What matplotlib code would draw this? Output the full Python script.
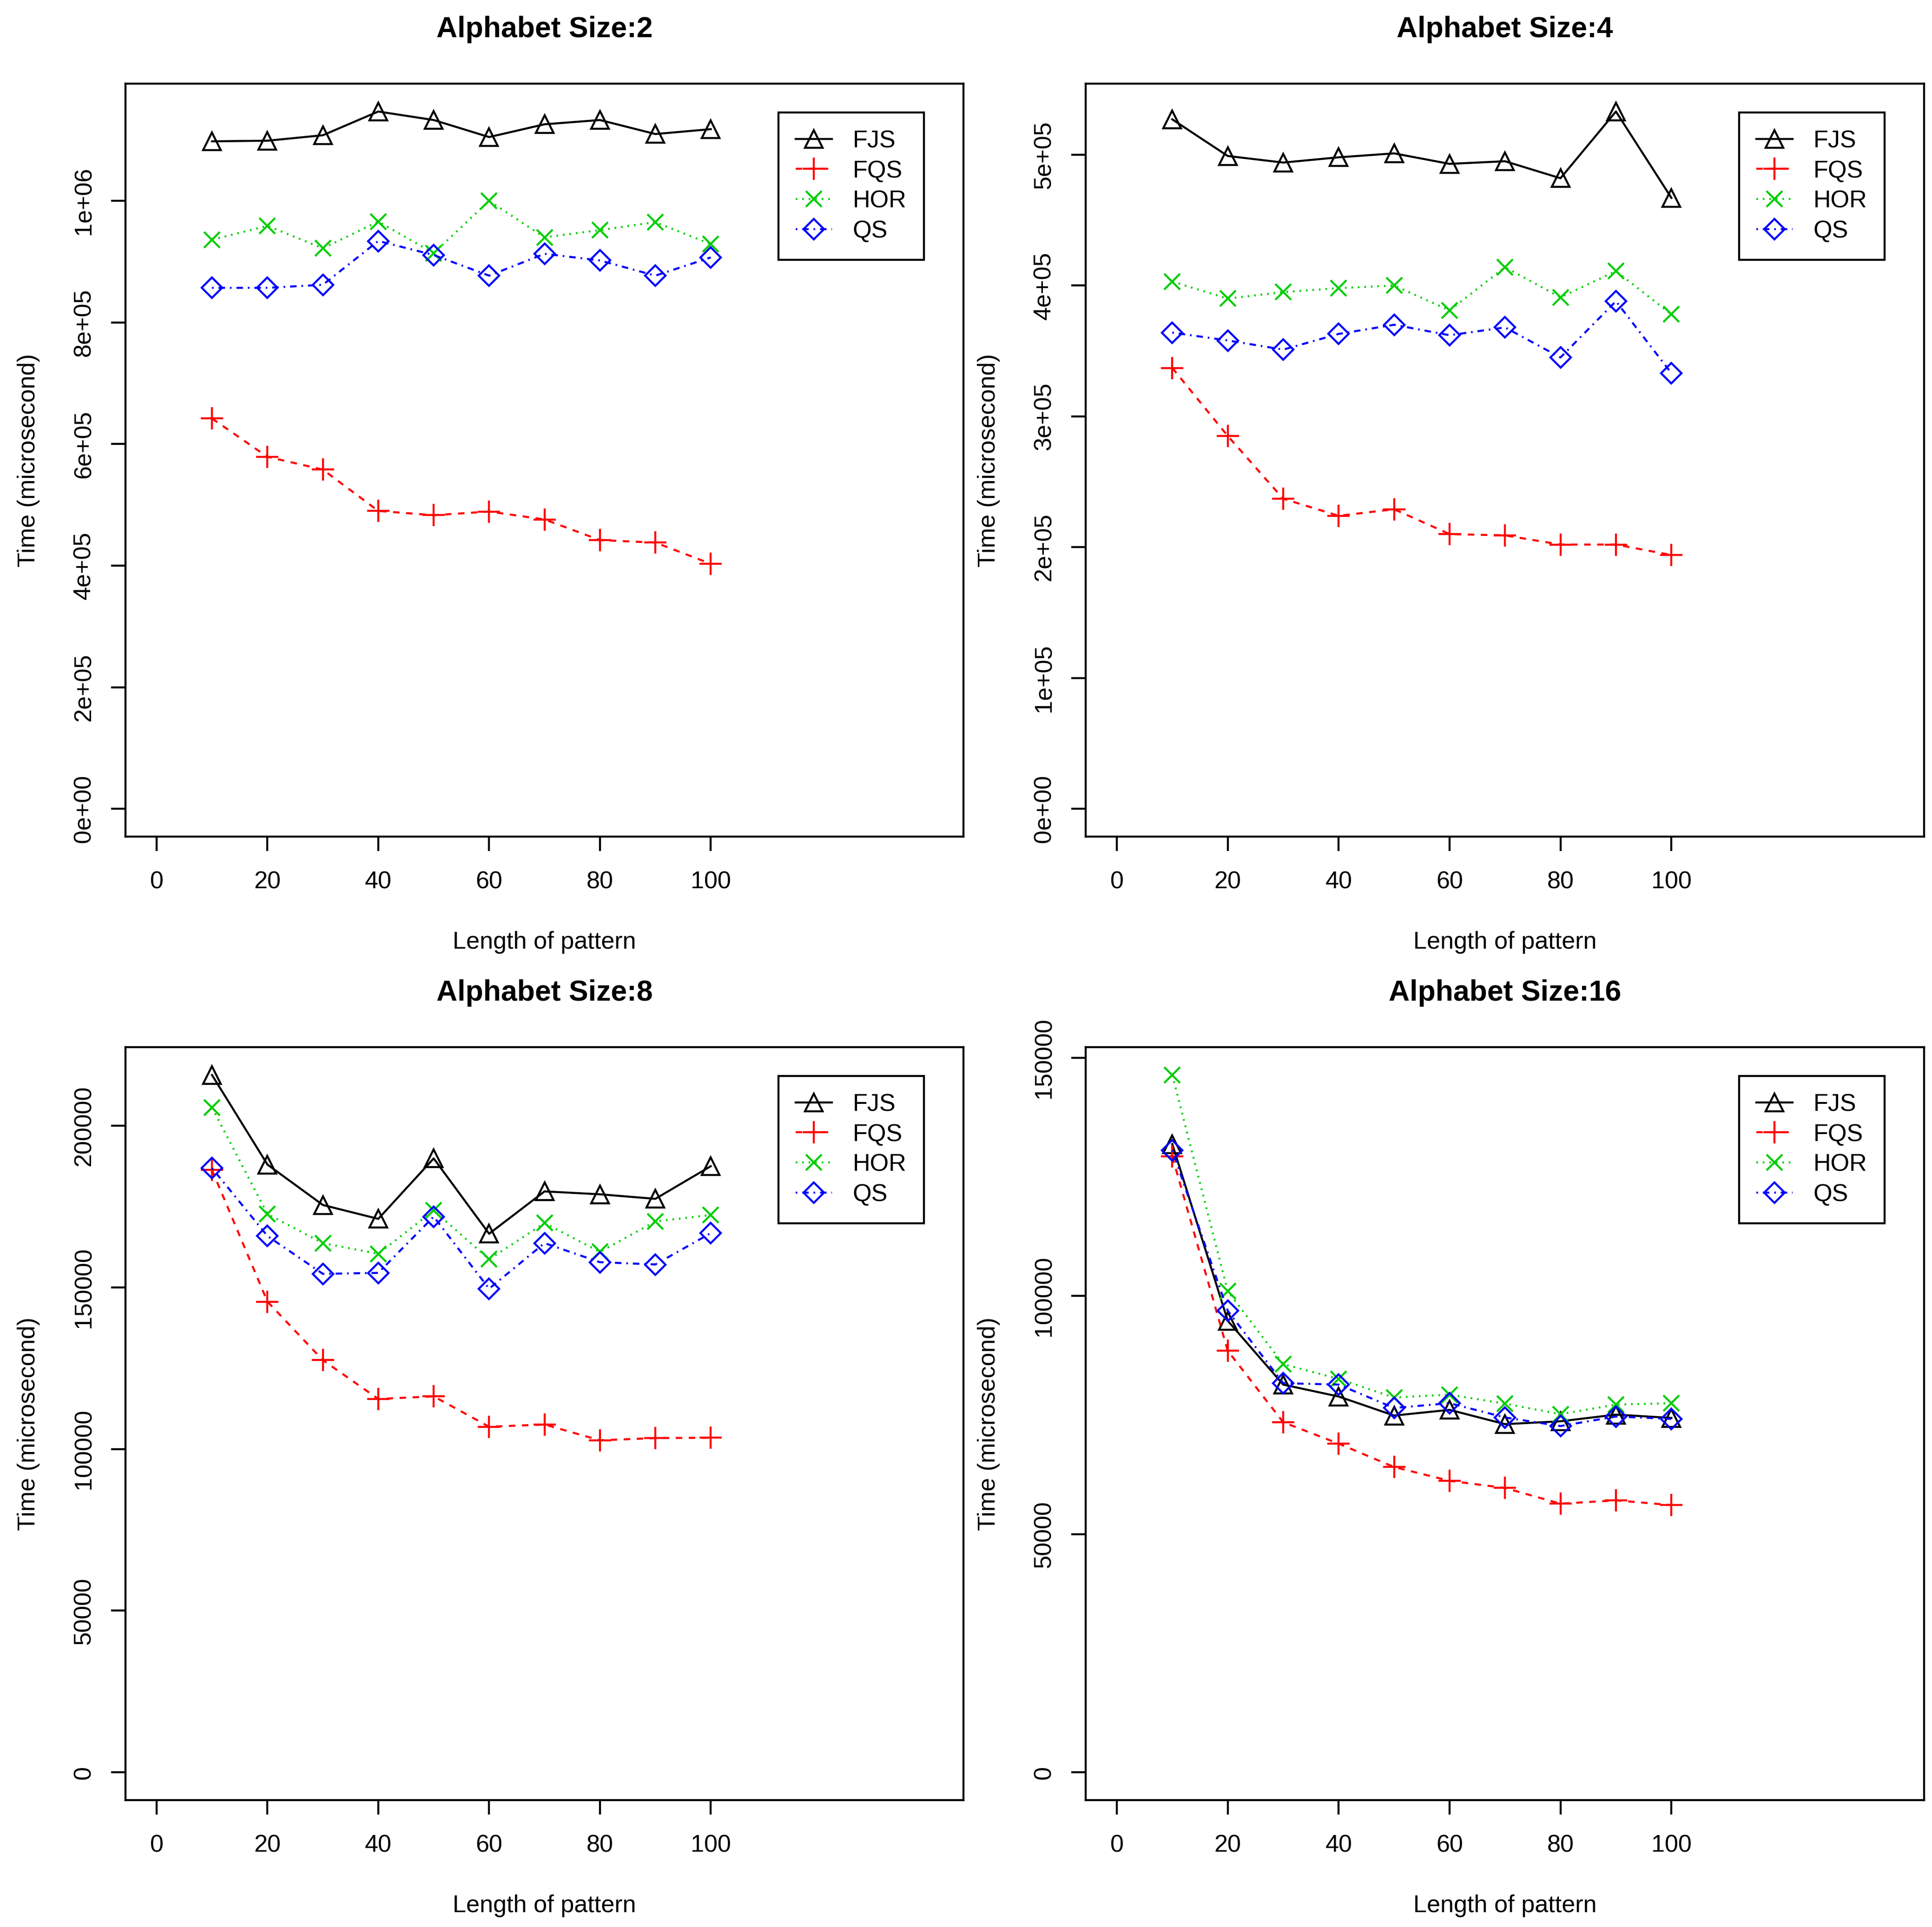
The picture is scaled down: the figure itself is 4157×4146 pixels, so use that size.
import matplotlib
matplotlib.use("Agg")
import matplotlib.pyplot as plt

# pattern lengths
lengths = [10, 20, 30, 40, 50, 60, 70, 80, 90, 100]

# alphabet size 2
fjs_2 = [1098000, 1099000, 1108000, 1147000, 1133000, 1105000, 1126000, 1133000, 1110000, 1118000]
fqs_2 = [642000, 579000, 558000, 490000, 483000, 489000, 476000, 442000, 438000, 403000]
hor_2 = [936000, 959000, 922000, 966000, 914000, 1000000, 940000, 952000, 965000, 929000]
qs_2 = [857000, 857000, 862000, 934000, 911000, 877000, 913000, 902000, 877000, 907000]

# alphabet size 4
fjs_4 = [527000, 499000, 494000, 498000, 501000, 493000, 495000, 482000, 533000, 467000]
fqs_4 = [337000, 285000, 237000, 224000, 229000, 210000, 209000, 202000, 202000, 194000]
hor_4 = [403000, 390000, 395000, 398000, 400000, 381000, 414000, 391000, 411000, 378000]
qs_4 = [364000, 358000, 351000, 363000, 370000, 362000, 368000, 345000, 388000, 333000]

# alphabet size 8
fjs_8 = [215700, 188000, 175500, 171200, 189900, 166600, 179700, 178800, 177400, 187500]
fqs_8 = [186300, 145600, 127500, 115500, 116300, 106900, 107600, 102700, 103400, 103500]
hor_8 = [205600, 172700, 163700, 160400, 173800, 158700, 169900, 161000, 170400, 172400]
qs_8 = [186900, 165900, 154200, 154500, 171900, 149600, 163700, 157800, 157100, 166800]

# alphabet size 16
fjs_16 = [131900, 94800, 81400, 78900, 74900, 76100, 73100, 73700, 75100, 74400]
fqs_16 = [129300, 88500, 73500, 69000, 64100, 61200, 59700, 56400, 57100, 56100]
hor_16 = [146400, 101000, 85700, 82600, 78700, 79300, 77400, 75200, 77200, 77500]
qs_16 = [130600, 96900, 81700, 81400, 76500, 77500, 74500, 72700, 74700, 74200]

alphabet_sizes = [2, 4, 8, 16]
names = ["FJS", "FQS", "HOR", "QS"]
x_ticks = [0, 20, 40, 60, 80, 100]

ytick_vals = {
    2: [0, 200000, 400000, 600000, 800000, 1000000],
    4: [0, 100000, 200000, 300000, 400000, 500000],
    8: [0, 50000, 100000, 150000, 200000],
    16: [0, 50000, 100000, 150000],
}
ytick_text = {
    2: ["0e+00", "2e+05", "4e+05", "6e+05", "8e+05", "1e+06"],
    4: ["0e+00", "1e+05", "2e+05", "3e+05", "4e+05", "5e+05"],
    8: ["0", "50000", "100000", "150000", "200000"],
    16: ["0", "50000", "100000", "150000"],
}

series = {
    2: [fjs_2, fqs_2, hor_2, qs_2],
    4: [fjs_4, fqs_4, hor_4, qs_4],
    8: [fjs_8, fqs_8, hor_8, qs_8],
    16: [fjs_16, fqs_16, hor_16, qs_16],
}

# R-like styles: col 1..4, lty 1..4, pch 2,3,4,5
styles = [
    dict(color="black", marker="^", ms=9, dashes=()),
    dict(color="#FF0000", marker="+", ms=11.5, dashes=(3.2, 3.2)),
    dict(color="#00CD00", marker="x", ms=8, dashes=(0.8, 2.4)),
    dict(color="#0000FF", marker="D", ms=7.5, dashes=(0.8, 2.4, 3.2, 2.4)),
]

plt.rcParams["font.family"] = ["Liberation Sans", "DejaVu Sans"]
plt.rcParams["font.size"] = 12.5

fig = plt.figure(figsize=(4157 / 300, 4146 / 300), dpi=300)

boxes = [
    (0.065, 0.5658, 0.4337, 0.3908),
    (0.562, 0.5658, 0.434, 0.3908),
    (0.065, 0.0658, 0.4337, 0.3908),
    (0.562, 0.0658, 0.434, 0.3908),
]

lw = 1.05
for k, size in enumerate(alphabet_sizes):
    ax = fig.add_axes(boxes[k])
    data = series[size]
    for vals, name, st in zip(data, names, styles):
        line, = ax.plot(lengths, vals, color=st["color"], lw=lw, marker=st["marker"],
                        ms=st["ms"], mfc="none", mec=st["color"], mew=lw, label=name)
        if st["dashes"]:
            line.set_dashes(st["dashes"])
    top = max(max(v) for v in data)
    ax.set_xlim(-5.6, 145.6)
    ax.set_ylim(-0.04 * top, 1.04 * top)
    ax.set_xticks(x_ticks)
    ax.set_yticks(ytick_vals[size])
    ax.set_yticklabels(ytick_text[size], rotation=90, va="center")
    ax.tick_params(length=7.5, width=lw, labelsize=12.5)
    ax.tick_params(axis="x", pad=10)
    ax.tick_params(axis="y", pad=8)
    for sp in ax.spines.values():
        sp.set_linewidth(lw)
    ax.set_xlabel("Length of pattern", labelpad=19.5)
    ax.set_ylabel("Time (microsecond)", labelpad=17)
    ax.set_title("Alphabet Size:%d" % size, fontsize=15, fontweight="bold", pad=24)
    leg = ax.legend(loc="upper left", bbox_to_anchor=(0.779, 0.962), borderaxespad=0,
                    fancybox=False, edgecolor="black", framealpha=1,
                    handlelength=1.5, handletextpad=0.85, borderpad=0.72,
                    labelspacing=0.3, fontsize=12.5)
    leg.get_frame().set_linewidth(lw)

fig.savefig("out.png", dpi=300)
